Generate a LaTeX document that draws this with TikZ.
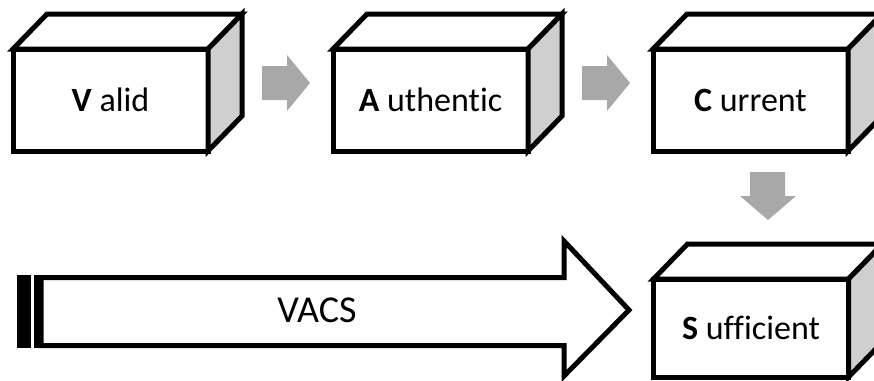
\documentclass[tikz,border=0pt]{standalone}
\usepackage{fontspec}
\setmainfont{Carlito}[Ligatures=NoCommon]
\definecolor{sidegray}{HTML}{CFCFCF}
\definecolor{flowgray}{HTML}{A8A8A8}
\tikzset{
  cube/.style={draw, line width=5pt, fill=white, line join=miter,
    minimum width=195pt, minimum height=102pt, inner sep=0pt, outer sep=0pt,
    font=\fontsize{34}{40}\selectfont},
  face/.style={draw, line width=5pt, line join=miter},
  flow/.style={fill=flowgray, draw=none},
}
% front face as a node, top and side faces hung off its corners
\newcommand{\cubefaces}[1]{%
  \draw[face, fill=white] (#1.north west) -- ++(34,-35) -- ++(195,0) -- (#1.north east) -- cycle;
  \draw[face, fill=sidegray] (#1.north east) -- ++(34,-35) -- ++(0,\pgfkeysvalueof{/tikz/cubeh}) -- (#1.south east) -- cycle;
}
\pgfkeys{/tikz/cubeh/.initial=102}
\begin{document}
\begin{tikzpicture}[x=1pt, y=-1pt]
  \useasboundingbox (0,0) rectangle (874,380);
  \clip (0,0) rectangle (874,380);

  % the four stages
  \node[cube] (valid) at (110.5,100) {\textbf{V} alid};
  \cubefaces{valid}
  \node[cube] (authentic) at (430.5,100) {\textbf{A} uthentic};
  \cubefaces{authentic}
  \node[cube] (current) at (750.5,100) {\textbf{C} urrent};
  \cubefaces{current}
  \pgfkeys{/tikz/cubeh=98}
  \node[cube, minimum height=98pt] (sufficient) at (751,328) {\textbf{S} ufficient};
  \cubefaces{sufficient}

  % grey step arrows
  \coordinate (r1) at (262,83);
  \fill[flow] (r1) ++(0,-17) -- ++(25,0) -- ++(0,-11) -- (310,83) -- (287,111) -- (287,100) -- (262,100) -- cycle;
  \coordinate (r2) at (582,83);
  \fill[flow] (r2) ++(0,-17) -- ++(25,0) -- ++(0,-11) -- (630,83) -- (607,111) -- (607,100) -- (582,100) -- cycle;
  \coordinate (d1) at (768,172);
  \fill[flow] (750,172) -- (785,172) -- (785,196) -- (796,196) -- (d1 |- 0,220) -- (740,196) -- (750,196) -- cycle;

  % striped VACS arrow
  \fill[black] (17,275) rectangle (31,348);
  \fill[black] (34,275) rectangle (41,348);
  \draw[face, fill=white] (41,277.5) -- (564,277.5) -- (564,241) -- (629,310)
    -- (564,376) -- (564,345.5) -- (41,345.5) -- cycle;
  \node[font=\fontsize{38}{46}\selectfont] (vacs) at (317,310) {VACS};
\end{tikzpicture}
\end{document}
